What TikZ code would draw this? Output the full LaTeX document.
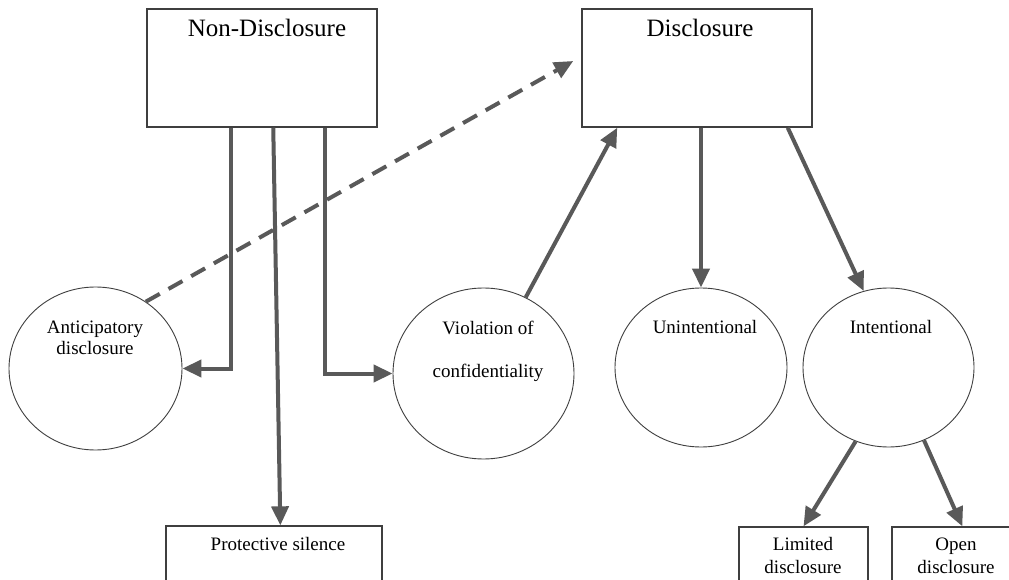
\documentclass[tikz,border=0pt]{standalone}
\usepackage{fontspec}
\setmainfont{Liberation Serif}
\usetikzlibrary{arrows.meta,shapes.geometric,calc}
\definecolor{arrowgray}{HTML}{595959}
\definecolor{edgegray}{HTML}{3F3F3F}
\begin{document}
\begin{tikzpicture}[x=1pt,y=-1pt,
  bigbox/.style={draw=edgegray,line width=1.5pt,minimum width=230pt,minimum height=118pt,inner sep=0},
  smallbox/.style={draw=edgegray,line width=1.3pt,inner sep=0,minimum height=56pt},
  bubble/.style={ellipse,draw=edgegray,line width=0.9pt,inner sep=0},
  conn/.style={draw=arrowgray,line width=4pt,-{Triangle[length=19pt,width=17pt]}},
  dashconn/.style={conn,dash pattern=on 16pt off 10pt},
  bigtxt/.style={font=\fontsize{25}{30}\selectfont,inner sep=0,anchor=base},
  txt/.style={font=\fontsize{19}{22}\selectfont,inner sep=0,anchor=base},
]
\useasboundingbox[fill=white] (0,0) rectangle (1009,580);

% top boxes
\node[bigbox] (nd) at (262,68) {};
\node[bigtxt] (ndt) at (267,37) {Non-Disclosure};
\node[bigbox] (disc) at (697,68) {};
\node[bigtxt] (disct) at (700,37) {Disclosure};

% circles
\node[bubble,minimum width=173pt,minimum height=163pt] (ant) at (95.5,368.5) {};
\node[txt] (antt1) at (95,333) {Anticipatory};
\node[txt] (antt2) at (95,354) {disclosure};

\node[bubble,minimum width=181pt,minimum height=171pt] (viol) at (483.5,373.5) {};
\node[txt] (violt1) at (488,334) {Violation of};
\node[txt] (violt2) at (488,377) {confidentiality};

\node[bubble,minimum width=172pt,minimum height=159pt] (unint) at (701,367.5) {};
\node[txt] (unintt) at (705,333) {Unintentional};

\node[bubble,minimum width=171pt,minimum height=159pt] (int) at (888.5,367.5) {};
\node[txt] (intt) at (891,333) {Intentional};

% bottom boxes
\node[smallbox,minimum width=216pt] (ps) at (274,554) {};
\node[txt] (pst) at (278,550) {Protective silence};
\node[smallbox,minimum width=129pt] (lim) at (803.5,555) {};
\node[txt] (limt1) at (803,550) {Limited};
\node[txt] (limt2) at (803,573) {disclosure};
\node[smallbox,minimum width=126pt] (open) at (955,555) {};
\node[txt] (opent1) at (956,550) {Open};
\node[txt] (opent2) at (956,573) {disclosure};

% connectors
\draw[conn] ($(nd.south west)+(85,0)$) |- (ant.east);
\draw[conn] ($(nd.south west)+(179,0)$) |- (viol.west);
\draw[conn] ($(nd.south west)+(127,0)$) -- ($(ps.north west)+(115,0)$);
\draw[dashconn] (ant.53) -- ($(disc.west)+(-8,-7)$);
\draw[conn] (viol.61) -- ($(disc.south west)+(36,0)$);
\draw[conn] (disc.south -| unint.north) -- (unint.north);
\draw[conn] ($(disc.south east)+(-25,0)$) -- (int.108);
\draw[conn] (int.-114) -- (lim.north);
\draw[conn] (int.-64) -- ($(open.north west)+(71,0)$);
\end{tikzpicture}
\end{document}
